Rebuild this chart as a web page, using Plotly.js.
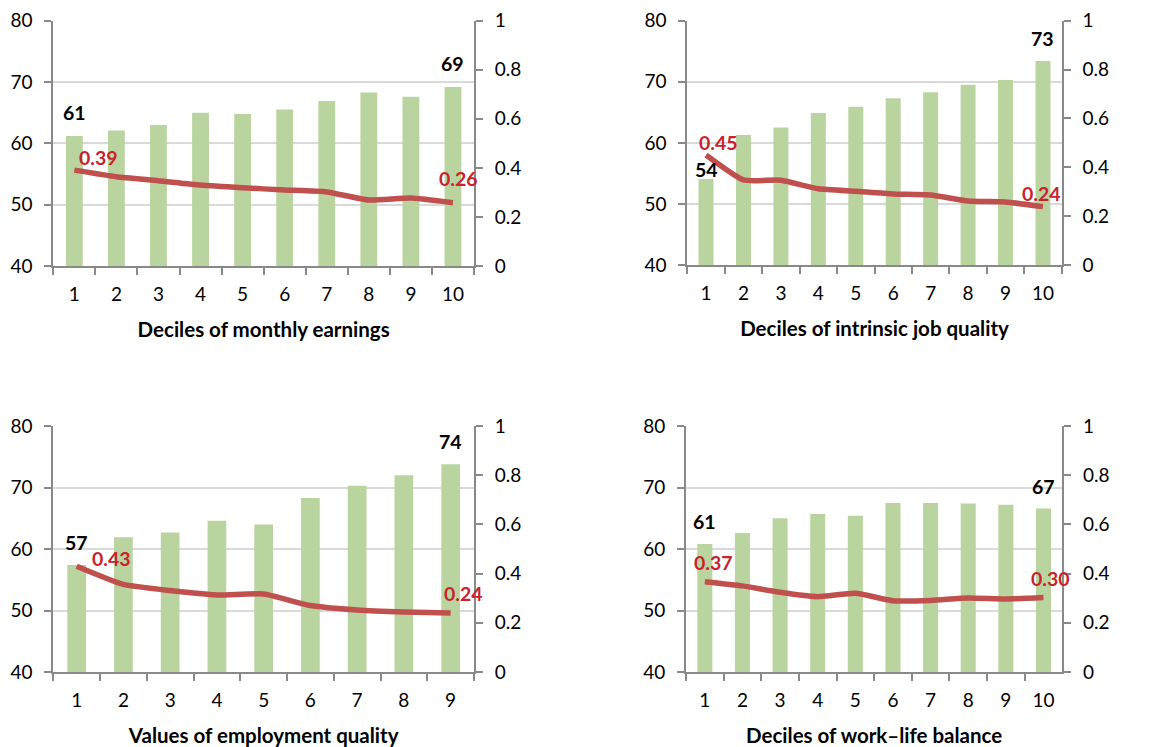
<!DOCTYPE html>
<html>
<head>
<meta charset="utf-8">
<script src="https://cdn.plot.ly/plotly-3.0.1.min.js"></script>
<style>html,body{margin:0;padding:0;background:#fff;}#chart{width:1175px;height:747px;}</style>
</head>
<body>
<div id="chart"></div>
<script>
// ---- data ----
const cats10 = ['1','2','3','4','5','6','7','8','9','10'];
const cats9 = ['1','2','3','4','5','6','7','8','9'];

const titles = ['Deciles of monthly earnings', 'Deciles of intrinsic job quality',
                'Values of employment quality', 'Deciles of work\u2013life balance'];

const earningsBars = [61.2, 62.1, 63.0, 65.0, 64.8, 65.5, 66.9, 68.3, 67.6, 69.2];
const earningsLine = [0.391, 0.364, 0.348, 0.330, 0.319, 0.310, 0.302, 0.269, 0.277, 0.258];

const intrinsicBars = [54.1, 61.3, 62.5, 64.9, 65.9, 67.3, 68.3, 69.5, 70.3, 73.4];
const intrinsicLine = [0.450, 0.348, 0.347, 0.312, 0.302, 0.291, 0.287, 0.262, 0.258, 0.239];

const employmentBars = [57.4, 61.9, 62.7, 64.6, 64.0, 68.3, 70.3, 72.0, 73.8];
const employmentLine = [0.430, 0.356, 0.331, 0.313, 0.317, 0.270, 0.252, 0.244, 0.240];

const worklifeBars = [60.8, 62.6, 65.0, 65.7, 65.4, 67.5, 67.5, 67.4, 67.2, 66.6];
const worklifeLine = [0.367, 0.350, 0.324, 0.306, 0.320, 0.290, 0.291, 0.301, 0.297, 0.303];

// ---- style ----
const FONT = 'Lato, "Open Sans", sans-serif';
const AX = '#898989';
const GRID = '#d9d9d9';
const BAR = '#b9d49f';
const LINE = '#c0504d';
const RED = '#c8232c';

const panels = [
  {cats: cats10, bars: earningsBars, line: earningsLine, title: titles[0],
   xd: [53.3, 474], yd: [20.7, 266],
   barLab: [[0, 23], [9, 23]], lineLab: [[0, 24, 13], [9, 6, 24]]},
  {cats: cats10, bars: intrinsicBars, line: intrinsicLine, title: titles[1],
   xd: [687.3, 1061.7], yd: [20.7, 265],
   barLab: [[0, 9.5], [9, 23]], lineLab: [[0, 12, 12.5], [9, -1.5, 12.7]]},
  {cats: cats9, bars: employmentBars, line: employmentLine, title: titles[2],
   xd: [53.3, 474], yd: [426, 672],
   barLab: [[0, 22.5], [8, 22.6]], lineLab: [[0, 35, 8], [8, 13, 19]]},
  {cats: cats10, bars: worklifeBars, line: worklifeLine, title: titles[3],
   xd: [686, 1062.3], yd: [426, 672],
   barLab: [[0, 23], [9, 22]], lineLab: [[0, 9, 19], [9, 7, 19]]}
];

const W = 1175, H = 747;
const traces = [];
const annotations = [];
const layout = {
  width: W, height: H,
  margin: {l: 0, r: 0, t: 0, b: 0},
  paper_bgcolor: '#fff', plot_bgcolor: 'rgba(0,0,0,0)',
  showlegend: false,
  bargap: 0.6,
  font: {family: FONT, size: 19, color: '#000'},
  annotations: annotations
};

panels.forEach((p, i) => {
  const n = i + 1;
  const xa = 'x' + (n === 1 ? '' : n);
  const yl = 'y' + (2 * n - 1 === 1 ? '' : (2 * n - 1));
  const yr = 'y' + (2 * n);
  const xk = 'xaxis' + (n === 1 ? '' : n);
  const ylk = 'yaxis' + (2 * n - 1 === 1 ? '' : (2 * n - 1));
  const yrk = 'yaxis' + (2 * n);

  traces.push({type: 'bar', x: p.cats, y: p.bars, xaxis: xa, yaxis: yl,
    marker: {color: BAR, line: {width: 0}}, hoverinfo: 'skip'});
  traces.push({type: 'scatter', mode: 'lines', x: p.cats, y: p.line, xaxis: xa, yaxis: yr,
    line: {color: LINE, width: 5.5, shape: 'spline', smoothing: 0.5}, hoverinfo: 'skip'});

  const xdom = [p.xd[0] / W, p.xd[1] / W];
  const ydom = [(H - p.yd[1]) / H, (H - p.yd[0]) / H];

  layout[xk] = {
    domain: xdom, anchor: yl, type: 'category',
    range: [-0.5, p.cats.length - 0.5], autorange: false,
    tickson: 'boundaries', ticks: 'outside', ticklen: 7, tickwidth: 2, tickcolor: AX,
    showline: true, linecolor: AX, linewidth: 2, showgrid: false,
    ticklabelstandoff: 10,
    tickfont: {family: FONT, size: 19, color: '#000'},
    title: {text: p.title, standoff: 19, font: {family: FONT, size: 20.5, weight: 700, color: '#000'}},
    fixedrange: true
  };
  layout[ylk] = {
    domain: ydom, anchor: xa, range: [40, 80], autorange: false, dtick: 10, tick0: 40,
    ticks: 'outside', ticklen: 7, tickwidth: 2, tickcolor: AX,
    showline: true, linecolor: AX, linewidth: 2,
    showgrid: true, gridcolor: GRID, gridwidth: 2, zeroline: false,
    ticklabelstandoff: 8,
    tickfont: {family: FONT, size: 19, color: '#000'},
    fixedrange: true
  };
  layout[yrk] = {
    domain: ydom, anchor: xa, overlaying: yl, side: 'right', range: [0, 1], autorange: false,
    dtick: 0.2, tick0: 0,
    ticks: 'outside', ticklen: 7, tickwidth: 2, tickcolor: AX,
    showline: true, linecolor: AX, linewidth: 2,
    showgrid: false, zeroline: false,
    ticklabelstandoff: 8,
    tickfont: {family: FONT, size: 19, color: '#000'},
    fixedrange: true
  };

  // annotations on a category axis are placed by category index
  p.barLab.forEach(([k, dy]) => {
    annotations.push({xref: xa, yref: yl, x: k, y: p.bars[k],
      text: String(Math.round(p.bars[k])), showarrow: false, yshift: dy,
      xanchor: 'center', yanchor: 'middle',
      font: {family: FONT, size: 19.5, weight: 700, color: '#000'}});
  });
  p.lineLab.forEach(([k, dx, dy]) => {
    annotations.push({xref: xa, yref: yr, x: k, y: p.line[k],
      text: p.line[k].toFixed(2), showarrow: false, xshift: dx, yshift: dy,
      xanchor: 'center', yanchor: 'middle',
      font: {family: FONT, size: 19.5, weight: 700, color: RED}});
  });
});

Plotly.newPlot('chart', traces, layout, {staticPlot: true, displayModeBar: false});
</script>
</body>
</html>
